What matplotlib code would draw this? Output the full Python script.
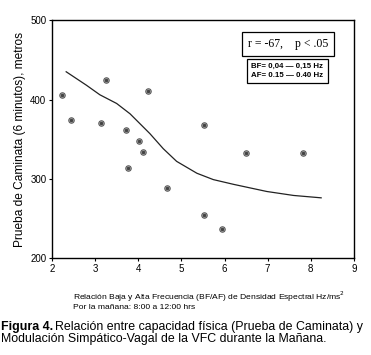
import matplotlib
matplotlib.use('Agg')
import matplotlib.pyplot as plt

# scatter data (BF/AF ratio vs walk test distance)
ratio = [2.24, 2.44, 3.25, 3.13, 3.72, 4.23, 4.02, 4.11, 3.76, 5.53, 6.50, 7.82, 4.66, 5.52, 5.95]
metros = [406, 374, 424, 370, 362, 411, 348, 334, 313, 368, 332, 332, 288, 254, 237]

# fitted curve
curve_x = [2.33, 2.8, 3.11, 3.5, 3.81, 4.27, 4.58, 4.89, 5.36, 5.74, 6.21, 6.98, 7.6, 8.24]
curve_y = [435, 418, 406, 395, 382, 357, 338, 322, 307, 299, 293, 284, 279, 276]

x_ticks = [2, 3, 4, 5, 6, 7, 8, 9]
y_ticks = [200, 300, 400, 500]

plt.rcParams['font.family'] = ['Liberation Sans', 'DejaVu Sans']

fig = plt.figure(figsize=(3.71, 3.55), dpi=100)
ax = fig.add_axes([0.140, 0.273, 0.814, 0.670])

ax.plot(curve_x, curve_y, color='#222222', lw=0.9)
ax.scatter(ratio, metros, s=15, facecolor='#e0e0e0', edgecolor='#555555', linewidths=0.8, zorder=3)
ax.scatter(ratio, metros, s=2.5, color='#444444', zorder=4)

ax.set_xlim(2, 9)
ax.set_ylim(200, 500)
ax.set_xticks(x_ticks)
ax.set_yticks(y_ticks)
ax.tick_params(labelsize=7, length=2, width=0.8, pad=2)
for s in ax.spines.values():
    s.set_linewidth(1.0)
ax.set_ylabel('Prueba de Caminata (6 minutos), metros', fontsize=8.6, labelpad=3)

# stat boxes
ax.text(0.781, 0.899, 'r = -67,    p < .05', transform=ax.transAxes, ha='center', va='center',
        fontsize=8.5, family='Liberation Serif',
        bbox=dict(boxstyle='square,pad=0.5', fc='white', ec='black', lw=0.9))
ax.text(0.780, 0.787, 'BF= 0,04 \u2014 0,15 Hz\nAF= 0.15 \u2014 0.40 Hz', transform=ax.transAxes,
        ha='center', va='center', fontsize=5.7, fontweight='bold', linespacing=1.3,
        bbox=dict(boxstyle='square,pad=0.55', fc='white', ec='black', lw=0.9))

fig.text(0.197, 0.163, 'Relación Baja y Alta Frecuencia (BF/AF) de Densidad Espectral Hz/ms$^2$',
         fontsize=6.1, va='center')
fig.text(0.197, 0.135, 'Por la mañana: 8:00 a 12:00 hrs', fontsize=6.1, va='center')

# caption, bold prefix then regular text right after it
cap = fig.text(0.003, 0.078, 'Figura 4.', fontsize=8.9, fontweight='bold', va='center')
fig.canvas.draw()
bb = cap.get_window_extent().transformed(fig.transFigure.inverted())
fig.text(bb.x1 + 0.006, 0.078, 'Relación entre capacidad física (Prueba de Caminata) y', fontsize=8.9, va='center')
fig.text(0.003, 0.045, 'Modulación Simpático-Vagal de la VFC durante la Mañana.', fontsize=8.9, va='center')

fig.savefig('out.png', dpi=100)
